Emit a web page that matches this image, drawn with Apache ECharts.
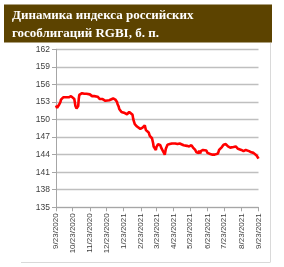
<!DOCTYPE html>
<html><head><meta charset="utf-8">
<script src="https://cdn.jsdelivr.net/npm/echarts@6/dist/echarts.min.js"></script>
<style>html,body{margin:0;padding:0;background:#fff}#c{width:284px;height:267px}</style>
</head><body><div id="c"></div>
<script>
const titleLines = ['Динамика индекса российских', 'гособлигаций RGBI, б. п.'];
const tickDates = ['2020-09-23','2020-10-23','2020-11-23','2020-12-23','2021-01-23','2021-02-23','2021-03-23','2021-04-23','2021-05-23','2021-06-23','2021-07-23','2021-08-23','2021-09-23'];
const yMin = 135, yMax = 162, yStep = 3;
const dates = [
'2020-09-23','2020-09-24','2020-09-25','2020-09-28','2020-09-29','2020-09-30','2020-10-01','2020-10-02','2020-10-05','2020-10-06','2020-10-07','2020-10-08','2020-10-09','2020-10-12','2020-10-13','2020-10-14','2020-10-15','2020-10-16','2020-10-19','2020-10-20','2020-10-21','2020-10-22','2020-10-23','2020-10-26','2020-10-27','2020-10-28','2020-10-29','2020-10-30','2020-11-02','2020-11-03','2020-11-04','2020-11-05','2020-11-06','2020-11-09','2020-11-10','2020-11-11','2020-11-12','2020-11-13','2020-11-16','2020-11-17','2020-11-18','2020-11-19','2020-11-20','2020-11-23','2020-11-24','2020-11-25','2020-11-26','2020-11-27','2020-11-30','2020-12-01','2020-12-02','2020-12-03','2020-12-04','2020-12-07','2020-12-08','2020-12-09','2020-12-10','2020-12-11','2020-12-14','2020-12-15','2020-12-16','2020-12-17','2020-12-18','2020-12-21','2020-12-22','2020-12-23','2020-12-24','2020-12-25','2020-12-28','2020-12-29','2020-12-30','2021-01-04','2021-01-05','2021-01-06','2021-01-08','2021-01-11','2021-01-12','2021-01-13','2021-01-14','2021-01-15','2021-01-18','2021-01-19','2021-01-20','2021-01-21','2021-01-22','2021-01-25','2021-01-26','2021-01-27','2021-01-28','2021-01-29','2021-02-01','2021-02-02','2021-02-03','2021-02-04','2021-02-05','2021-02-08','2021-02-09','2021-02-10','2021-02-11','2021-02-12','2021-02-15','2021-02-16','2021-02-17','2021-02-18','2021-02-19','2021-02-22','2021-02-24','2021-02-25','2021-02-26','2021-03-01','2021-03-02','2021-03-03','2021-03-04','2021-03-05','2021-03-09','2021-03-10','2021-03-11','2021-03-12','2021-03-15','2021-03-16','2021-03-17','2021-03-18','2021-03-19','2021-03-22','2021-03-23','2021-03-24','2021-03-25','2021-03-26','2021-03-29','2021-03-30','2021-03-31','2021-04-01','2021-04-02','2021-04-05','2021-04-06','2021-04-07','2021-04-08','2021-04-09','2021-04-12','2021-04-13','2021-04-14','2021-04-15','2021-04-16','2021-04-19','2021-04-20','2021-04-21','2021-04-22','2021-04-23','2021-04-26','2021-04-27','2021-04-28','2021-04-29','2021-04-30','2021-05-04','2021-05-05','2021-05-06','2021-05-07','2021-05-11','2021-05-12','2021-05-13','2021-05-14','2021-05-17','2021-05-18','2021-05-19','2021-05-20','2021-05-21','2021-05-24','2021-05-25','2021-05-26','2021-05-27','2021-05-28','2021-05-31','2021-06-01','2021-06-02','2021-06-03','2021-06-04','2021-06-07','2021-06-08','2021-06-09','2021-06-10','2021-06-11','2021-06-15','2021-06-16','2021-06-17','2021-06-18','2021-06-21','2021-06-22','2021-06-23','2021-06-24','2021-06-25','2021-06-28','2021-06-29','2021-06-30','2021-07-01','2021-07-02','2021-07-05','2021-07-06','2021-07-07','2021-07-08','2021-07-09','2021-07-12','2021-07-13','2021-07-14','2021-07-15','2021-07-16','2021-07-19','2021-07-20','2021-07-21','2021-07-22','2021-07-23','2021-07-26','2021-07-27','2021-07-28','2021-07-29','2021-07-30','2021-08-02','2021-08-03','2021-08-04','2021-08-05','2021-08-06','2021-08-09','2021-08-10','2021-08-11','2021-08-12','2021-08-13','2021-08-16','2021-08-17','2021-08-18','2021-08-19','2021-08-20','2021-08-23','2021-08-24','2021-08-25','2021-08-26','2021-08-27','2021-08-30','2021-08-31','2021-09-01','2021-09-02','2021-09-03','2021-09-06','2021-09-07','2021-09-08','2021-09-09','2021-09-10','2021-09-13','2021-09-14','2021-09-15','2021-09-16','2021-09-17','2021-09-20','2021-09-21','2021-09-22','2021-09-23'];
const values = [
152.4,152.2,152.0,152.1,152.6,152.9,153.0,153.4,153.7,153.8,153.6,153.9,154.0,153.8,153.7,153.9,154.0,153.8,153.9,154.0,153.9,153.7,153.8,153.5,152.9,152.3,152.0,151.9,152.3,153.5,154.2,154.5,154.3,154.5,154.4,154.5,154.3,154.4,154.5,154.4,154.2,154.3,154.2,154.3,154.2,154.1,154.2,154.0,154.1,154.0,153.9,153.9,153.8,153.9,153.7,153.6,153.7,153.5,153.4,153.4,153.5,153.4,153.3,153.2,153.0,153.1,153.2,153.2,153.3,153.4,153.5,153.6,153.7,153.6,153.4,153.0,152.6,152.3,152.2,151.8,151.6,151.3,151.1,151.2,151.0,151.1,150.9,151.0,151.0,150.9,151.1,151.3,151.4,151.6,151.4,150.8,150.2,149.8,149.6,149.2,148.9,148.8,148.9,148.6,148.5,148.4,148.6,148.3,148.6,148.9,149.0,148.7,148.2,148.0,147.8,147.5,147.2,147.0,146.8,146.5,146.0,145.4,145.2,144.8,145.3,145.6,145.4,145.8,145.5,145.6,145.4,145.1,144.8,144.4,144.1,144.0,144.3,145.0,145.7,146.0,145.7,145.9,145.8,145.6,145.9,145.7,145.8,146.0,145.9,145.8,146.0,145.9,145.8,145.9,145.8,145.7,145.8,145.6,145.7,145.6,145.6,145.5,145.6,145.5,145.6,145.4,145.5,145.6,145.3,145.5,145.2,145.0,144.8,144.6,144.4,144.6,144.3,144.7,144.5,144.2,144.6,144.8,144.7,144.8,144.6,144.7,144.5,144.3,144.2,144.4,144.1,144.2,144.0,144.1,144.0,144.1,144.0,144.2,144.0,144.1,144.2,144.5,144.8,145.0,145.1,145.3,145.5,145.6,145.7,145.9,145.8,145.9,145.7,145.6,145.4,145.3,145.2,145.4,145.2,145.1,145.3,145.5,145.4,145.3,145.4,145.2,145.0,144.9,144.8,144.9,144.8,144.9,144.7,144.8,144.6,144.7,144.8,144.6,144.7,144.5,144.6,144.5,144.6,144.5,144.4,144.5,144.3,144.2,144.1,144.0,143.8,143.6,143.5,143.3];

function ts(s){const p=s.split('-').map(Number);return new Date(p[0],p[1]-1,p[2]).getTime();}
const seriesData = dates.map((d,i)=>[ts(d), values[i]]);
const tickTs = tickDates.map(ts);

const chart = echarts.init(document.getElementById('c'), null, {renderer:'canvas'});
chart.setOption({
  animation:false,
  backgroundColor:'#fff',
  grid:{left:56, right:25.5, top:49.3, bottom:59.7, containLabel:false},
  xAxis:{
    type:'value', min:tickTs[0], max:tickTs[tickTs.length-1], scale:true,
    axisLine:{show:true, lineStyle:{color:'#a6a6a6', width:1}},
    axisTick:{show:true, customValues:tickTs, length:4, lineStyle:{color:'#a6a6a6'}},
    splitLine:{show:false},
    axisLabel:{customValues:tickTs, rotate:90, margin:6, fontSize:8, fontFamily:'Liberation Sans', color:'#404040',
      formatter:function(v){const d=new Date(v);return (d.getMonth()+1)+'/'+d.getDate()+'/'+d.getFullYear();}}
  },
  yAxis:{
    type:'value', min:yMin, max:yMax, interval:yStep,
    axisLine:{show:true, lineStyle:{color:'#a6a6a6', width:1}},
    axisTick:{show:true, length:4, lineStyle:{color:'#a6a6a6'}},
    splitLine:{show:true, lineStyle:{color:'#bfbfbf', width:1.3}},
    axisLabel:{margin:6, fontSize:8.5, fontFamily:'Liberation Sans', color:'#404040'}
  },
  series:[{type:'line', data:seriesData, showSymbol:false, symbol:'none',
    lineStyle:{color:'#ff0000', width:2.6}, z:5}],
  graphic:[
    {type:'rect', shape:{x:4, y:4.5, width:268, height:38}, style:{fill:'#5c4300'}, z:10},
    {type:'text', x:12, y:16, style:{text:titleLines[0], fill:'#fff', font:'bold 13px "Liberation Serif"', textVerticalAlign:'middle'}, z:11},
    {type:'text', x:12, y:34, style:{text:titleLines[1], fill:'#fff', font:'bold 13px "Liberation Serif"', textVerticalAlign:'middle'}, z:11},
    {type:'line', shape:{x1:270.5, y1:43, x2:270.5, y2:262}, style:{stroke:'#d9d9d9', lineWidth:1}, z:1},
    {type:'line', shape:{x1:21, y1:262.5, x2:270.5, y2:262.5}, style:{stroke:'#d9d9d9', lineWidth:1}, z:1}
  ]
});
</script></body></html>
